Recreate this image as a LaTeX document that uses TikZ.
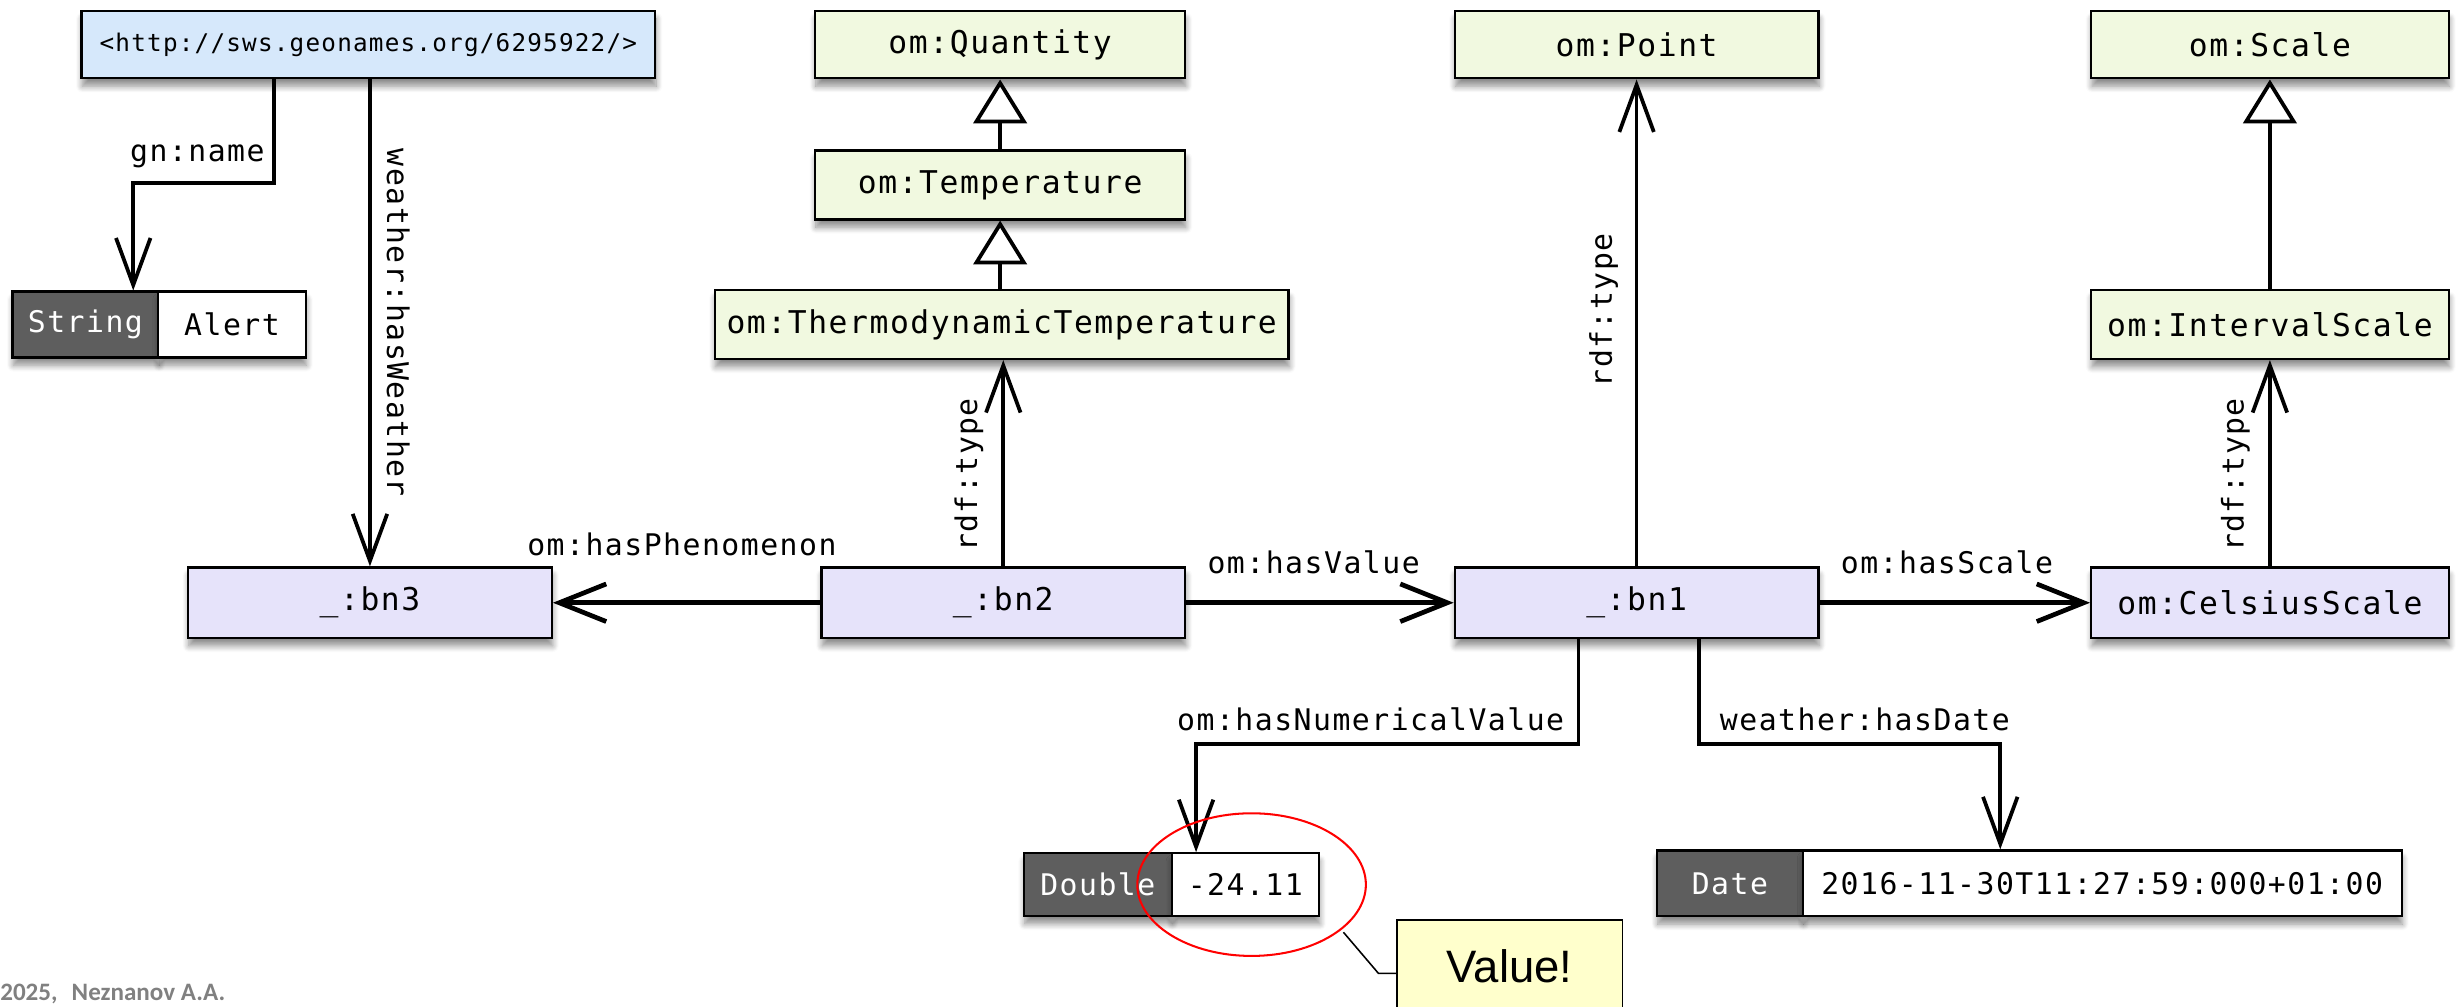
\documentclass[tikz,border=0pt]{standalone}
\usepackage{fontspec}
\usetikzlibrary{arrows.meta,shadows.blur,shapes.geometric}
\newfontfamily\dmono[LetterSpace=5]{DejaVu Sans Mono}
\newfontfamily\arialfont{Liberation Sans}
\newfontfamily\calfont{Carlito}
\definecolor{uriblue}{HTML}{D6E8FB}
\definecolor{clsgreen}{HTML}{F1F9E0}
\definecolor{bnpurple}{HTML}{E6E3FA}
\definecolor{littype}{HTML}{5E5E5E}
\definecolor{notey}{HTML}{FFFFCC}
\definecolor{footgray}{HTML}{808080}
\begin{document}
\begin{tikzpicture}[x=1pt,y=-1pt,
  shad/.style={blur shadow={shadow xshift=0.5pt,shadow yshift=-5pt,shadow blur radius=4pt,shadow blur steps=8,shadow opacity=45}},
  box/.style={draw=black,line width=1.4pt,minimum height=43pt,inner sep=0pt,
    font=\dmono\fontsize{20}{24}\selectfont,shad},
  cls/.style={box,fill=clsgreen},
  bnode/.style={box,fill=bnpurple,minimum width=232pt,minimum height=45pt},
  uribox/.style={box,fill=uriblue,font=\dmono\fontsize{15.5}{18}\selectfont},
  lt/.style={box,fill=littype,text=white,minimum height=42pt,font=\dmono\fontsize{19}{22}\selectfont},
  lv/.style={box,fill=white,minimum height=42pt,font=\dmono\fontsize{19}{22}\selectfont},
  elabel/.style={inner sep=0pt,font=\dmono\fontsize{19}{22}\selectfont},
  rel/.style={line width=2.4pt,-{Straight Barb[length=30pt,width=22pt,line width=2.4pt]}},
  hrel/.style={line width=3pt,-{Straight Barb[length=30pt,width=24pt,line width=3pt]}},
  isa/.style={line width=2.4pt,-{Triangle[length=28pt,width=34pt,fill=white,line width=2.4pt]}},
  notebox/.style={draw=black,line width=1pt,fill=notey,minimum width=144pt,minimum height=59pt,inner sep=0pt,
    font=\arialfont\fontsize{29}{32}\selectfont}
]
\useasboundingbox (0,0) rectangle (1568,642);

% class nodes
\node[uribox,minimum width=366pt] (uri) at (235,28.5) {<http://sws.geonames.org/6295922/>};
\node[cls,minimum width=236pt] (quantity) at (638,28.5) {om:Quantity};
\node[cls,minimum width=236pt,minimum height=44pt] (temperature) at (638,118) {om:Temperature};
\node[cls,minimum width=366pt,minimum height=44pt] (thermo) at (639,207) {om:ThermodynamicTemperature};
\node[cls,minimum width=232pt] (point) at (1044,28.5) {om:Point};
\node[cls,minimum width=228pt] (scale) at (1448,28.5) {om:Scale};
\node[cls,minimum width=228pt,minimum height=44pt] (interval) at (1448,207) {om:IntervalScale};

% blank nodes
\node[bnode] (bn3) at (236,384.5) {\_:bn3};
\node[bnode] (bn2) at (640,384.5) {\_:bn2};
\node[bnode] (bn1) at (1044,384.5) {\_:bn1};
\node[bnode,minimum width=228pt] (celsius) at (1448,384.5) {om:CelsiusScale};

% literals
\node[lt,minimum width=93pt] (strtype) at (54.5,207) {String};
\node[lv,minimum width=94pt] (strval) at (148,207) {Alert};
\node[lt,minimum width=94.2pt,minimum height=40pt] (dbltype) at (700.3,564.3) {Double};
\node[lv,minimum width=94pt,minimum height=40pt] (dblval) at (794.4,564.3) {-24.11};
\node[lt,minimum width=93pt] (datetype) at (1103.5,563.5) {Date};
\node[lv,minimum width=382pt] (dateval) at (1341,563.5) {2016-11-30T11:27:59:000+01:00};

% connectors
\draw[rel] ([xshift=-60pt]uri.south) -- ++(0,66) -| ([xshift=30.5pt]strtype.north);
\node[elabel,anchor=east] (lgn) at (169,100) {gn:name};

\draw[rel] (uri.south -| bn3.north) -- (bn3.north);
\node[elabel,rotate=-90] (lweather) at (254,206) {weather:hasWeather};

\draw[isa] (temperature.north) -- (quantity.south);
\draw[isa] (thermo.north -| temperature.south) -- (temperature.south);
\draw[isa] (interval.north) -- (scale.south);

\draw[rel] (bn2.north) -- (bn2.north |- thermo.south);
\node[elabel,rotate=90] (ltype2) at (618,303) {rdf:type};
\draw[rel] (bn1.north) -- (point.south);
\node[elabel,rotate=90] (ltype1) at (1023,198) {rdf:type};
\draw[rel] (celsius.north) -- (interval.south);
\node[elabel,rotate=90] (ltypec) at (1426,303) {rdf:type};

\draw[hrel] (bn2.west) -- (bn3.east);
\node[elabel] (lphen) at (435,347) {om:hasPhenomenon};
\draw[hrel] (bn2.east) -- (bn1.west);
\node[elabel] (lvalue) at (838,359) {om:hasValue};
\draw[hrel] (bn1.east) -- (celsius.west);
\node[elabel] (lscale) at (1242,359) {om:hasScale};

\draw[rel] ([xshift=-37pt]bn1.south) -- ++(0,67) -| ([xshift=-31.4pt]dblval.north);
\node[elabel,anchor=east] (lnum) at (998,459) {om:hasNumericalValue};
\draw[rel] ([xshift=40pt]bn1.south) -- ++(0,67) -| ([xshift=-65pt]dateval.north);
\node[elabel,anchor=west] (ldate) at (1097,459) {weather:hasDate};

% annotation
\node[ellipse,draw=red,line width=1.3pt,minimum width=145.8pt,minimum height=91pt,inner sep=0pt] (circ) at (798.4,564.3) {};
\node[notebox] (value) at (963,616.5) {Value!};
\coordinate (cstart) at (857,594.7);
\coordinate (cbend) at (879.3,620.9);
\draw[line width=1pt] (cstart) -- (cbend) -- (cbend -| value.west);

\node[anchor=base west,inner sep=0pt,text=footgray,font=\calfont\bfseries\fontsize{16}{18}\selectfont] (footer) at (0,638) {2025,\hspace{9pt}Neznanov A.A.};
\end{tikzpicture}
\end{document}
